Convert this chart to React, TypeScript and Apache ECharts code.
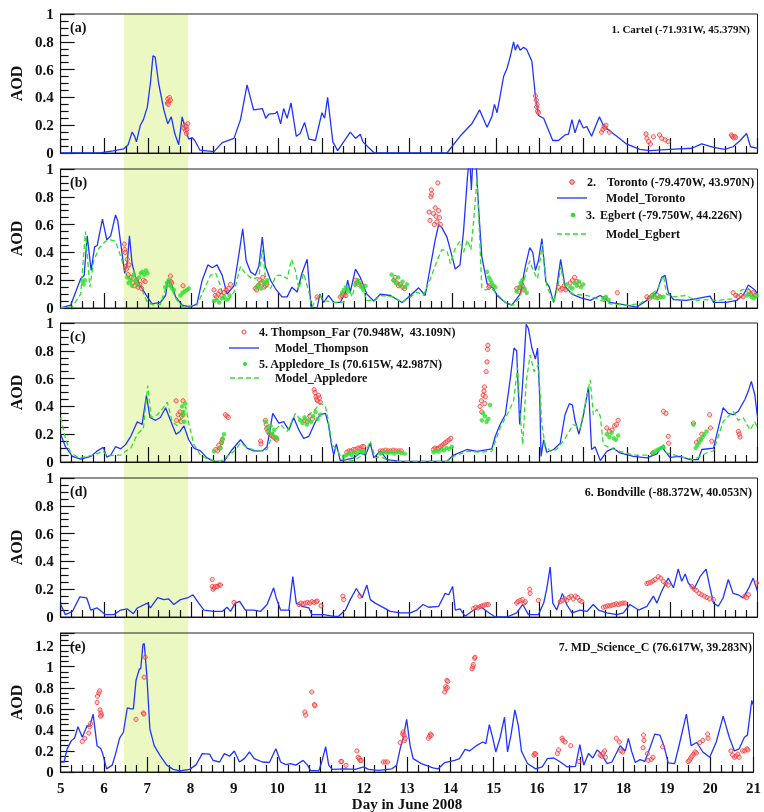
import React, { useEffect, useRef } from "react";
import * as echarts from "echarts";

const DAY_MIN = 5;
const DAY_MAX = 21;
const SHADE_DAYS = [6.45, 7.93];
const PANEL_LABELS = ["(a)", "(b)", "(c)", "(d)", "(e)"];
const Y_MAX = [1, 1, 1, 1, 1.32];
const STATION_TITLES = ["1. Cartel (-71.931W, 45.379N)", "", "", "6. Bondville (-88.372W, 40.053N)", "7. MD_Science_C (76.617W, 39.283N)"];

// ---- Panel (a): Cartel ----
const modelCartel = [[5,0],[5.9,0],[6.2,0.015],[6.45,0.03],[6.55,0.06],[6.64,0.15],[6.7,0.12],[6.74,0.08],[6.83,0.2],[6.9,0.24],[6.99,0.33],[7.06,0.5],[7.12,0.7],[7.17,0.69],[7.25,0.5],[7.37,0.31],[7.46,0.21],[7.54,0.26],[7.62,0.14],[7.71,0.06],[7.79,0.26],[7.87,0.17],[7.94,0.1],[8.02,0.11],[8.08,0.09],[8.2,0.02],[8.52,0.01],[8.71,0.075],[8.98,0.105],[9.13,0.24],[9.28,0.49],[9.43,0.31],[9.63,0.32],[9.71,0.25],[9.78,0.28],[9.93,0.285],[9.97,0.3],[10.05,0.21],[10.12,0.32],[10.2,0.25],[10.29,0.36],[10.41,0.12],[10.5,0.14],[10.6,0.22],[10.7,0.1],[10.85,0.09],[11.0,0.29],[11.06,0.25],[11.13,0.4],[11.25,0.08],[11.36,0.017],[11.65,0.15],[11.77,0.105],[11.88,0.135],[11.94,0.08],[12.2,0],[13.87,0],[13.98,0.045],[14.17,0.12],[14.44,0.21],[14.62,0.31],[14.79,0.185],[14.9,0.26],[14.96,0.35],[15.02,0.29],[15.09,0.41],[15.17,0.55],[15.25,0.61],[15.32,0.69],[15.4,0.8],[15.44,0.74],[15.49,0.78],[15.55,0.74],[15.63,0.76],[15.7,0.745],[15.82,0.66],[15.9,0.41],[15.97,0.27],[16.09,0.25],[16.2,0.165],[16.3,0.09],[16.43,0.09],[16.58,0.13],[16.66,0.135],[16.74,0.24],[16.81,0.145],[16.91,0.24],[17.0,0.18],[17.08,0.19],[17.19,0.12],[17.37,0.26],[17.46,0.2],[17.62,0.155],[17.77,0.12],[17.99,0.065],[18.3,0.026],[18.53,0.017],[18.99,0.026],[19.49,0.034],[19.72,0.065],[19.99,0.04],[20.25,0.026],[20.44,0.045],[20.6,0.09],[20.75,0.14],[20.84,0.045],[21,0.034]];
const obsCartel = [[7.45,0.36],[7.46,0.39],[7.48,0.37],[7.5,0.4],[7.52,0.38],[7.47,0.35],[7.83,0.18],[7.85,0.2],[7.87,0.16],[7.89,0.14],[7.9,0.17],[7.92,0.21],[7.88,0.19],[15.9,0.41],[15.92,0.38],[15.93,0.33],[15.95,0.3],[15.94,0.35],[15.97,0.29],[17.42,0.15],[17.45,0.17],[17.48,0.19],[17.5,0.18],[17.52,0.2],[17.6,0.15],[18.44,0.137],[18.46,0.106],[18.5,0.082],[18.54,0.065],[18.61,0.117],[18.75,0.13],[18.8,0.106],[18.88,0.094],[18.95,0.082],[20.4,0.13],[20.42,0.12],[20.45,0.11],[20.48,0.12],[20.5,0.11]];

// ---- Panel (b): Toronto / Egbert ----
const modelToronto = [[5,0],[5.23,0.02],[5.46,0.21],[5.54,0.235],[5.61,0.52],[5.7,0.27],[5.78,0.44],[5.84,0.45],[5.96,0.64],[6.06,0.49],[6.15,0.52],[6.26,0.67],[6.31,0.63],[6.39,0.44],[6.47,0.25],[6.53,0.33],[6.58,0.52],[6.64,0.32],[6.72,0.22],[6.83,0.16],[6.99,0.08],[7.1,0.03],[7.29,0.04],[7.41,0.09],[7.46,0.2],[7.54,0.18],[7.64,0.08],[7.79,0.02],[7.98,0.007],[8.13,0.03],[8.25,0.2],[8.38,0.31],[8.48,0.29],[8.59,0.31],[8.71,0.235],[8.82,0.1],[8.98,0.16],[9.09,0.38],[9.18,0.57],[9.26,0.34],[9.36,0.26],[9.47,0.235],[9.55,0.3],[9.63,0.51],[9.7,0.3],[9.82,0.2],[9.93,0.14],[10.08,0.08],[10.2,0.08],[10.31,0.15],[10.43,0.115],[10.54,0.25],[10.66,0.35],[10.75,0.007],[10.89,0],[10.95,0.1],[11.04,0.04],[11.15,0.09],[11.27,0.04],[11.42,0.04],[11.54,0.115],[11.59,0.2],[11.65,0.115],[11.77,0.28],[11.88,0.22],[12.03,0.1],[12.19,0.05],[12.34,0.1],[12.57,0.09],[12.84,0.04],[13.03,0.09],[13.22,0.145],[13.37,0.09],[13.49,0.3],[13.6,0.49],[13.68,0.6],[13.75,0.58],[13.87,0.51],[13.98,0.38],[14.06,0.28],[14.17,0.31],[14.25,0.55],[14.34,0.94],[14.39,1.1],[14.43,0.85],[14.47,1.1],[14.53,1.1],[14.6,0.7],[14.67,0.37],[14.79,0.175],[14.94,0.14],[15.02,0.09],[15.21,0.04],[15.36,0.02],[15.55,0.1],[15.67,0.3],[15.77,0.435],[15.84,0.4],[15.9,0.27],[15.97,0.34],[16.05,0.5],[16.14,0.19],[16.22,0.15],[16.32,0.04],[16.39,0.15],[16.48,0.35],[16.58,0.155],[16.74,0.1],[16.93,0.075],[17.16,0.055],[17.39,0.09],[17.62,0.04],[17.92,0.025],[18.23,0.007],[18.46,0.055],[18.69,0.115],[18.8,0.22],[18.88,0.235],[18.95,0.115],[19.07,0.06],[19.37,0.055],[19.6,0.067],[19.91,0.085],[19.99,0.04],[20.29,0.04],[20.52,0.055],[20.67,0.09],[20.79,0.165],[20.94,0.13],[21,0.1]];
const modelEgbert = [[5,0],[5.27,0.01],[5.46,0.1],[5.57,0.55],[5.67,0.15],[5.76,0.34],[5.88,0.43],[6.03,0.48],[6.15,0.49],[6.26,0.48],[6.38,0.37],[6.49,0.25],[6.61,0.2],[6.68,0.27],[6.76,0.16],[6.87,0.13],[6.99,0.04],[7.14,0.02],[7.29,0.025],[7.43,0.16],[7.52,0.16],[7.64,0.07],[7.79,0.01],[8.13,0.02],[8.29,0.13],[8.44,0.235],[8.56,0.25],[8.67,0.16],[8.76,0.055],[8.86,0.06],[8.98,0.115],[9.13,0.3],[9.24,0.25],[9.4,0.21],[9.55,0.22],[9.63,0.42],[9.7,0.22],[9.82,0.14],[9.95,0.235],[10.08,0.235],[10.2,0.21],[10.3,0.35],[10.39,0.27],[10.47,0.14],[10.58,0.25],[10.7,0.115],[10.77,0.007],[10.93,0.1],[11.04,0.055],[11.27,0.04],[11.5,0.04],[11.61,0.15],[11.69,0.08],[11.8,0.21],[11.92,0.15],[12.03,0.055],[12.22,0.055],[12.34,0.09],[12.65,0.08],[12.84,0.04],[13.03,0.08],[13.18,0.115],[13.33,0.09],[13.49,0.21],[13.64,0.34],[13.75,0.42],[13.87,0.41],[13.95,0.32],[14.06,0.43],[14.17,0.48],[14.25,0.4],[14.34,0.49],[14.42,0.42],[14.48,0.62],[14.56,0.93],[14.61,0.58],[14.67,0.14],[14.75,0.13],[14.9,0.14],[15.02,0.1],[15.21,0.04],[15.4,0.02],[15.55,0.08],[15.67,0.235],[15.77,0.34],[15.86,0.26],[15.95,0.21],[16.06,0.46],[16.16,0.16],[16.32,0.04],[16.43,0.175],[16.48,0.3],[16.58,0.14],[16.77,0.1],[17.08,0.09],[17.31,0.067],[17.62,0.03],[18,0.02],[18.3,0.03],[18.53,0.09],[18.72,0.14],[18.84,0.235],[18.91,0.1],[19.07,0.08],[19.34,0.09],[19.6,0.055],[19.87,0.06],[20.06,0.055],[20.44,0.067],[20.63,0.13],[20.79,0.14],[20.9,0.09],[21,0.067]];
const obsToronto = [[6.46,0.46],[6.47,0.42],[6.48,0.4],[6.5,0.3],[6.51,0.28],[6.53,0.35],[6.55,0.24],[6.57,0.31],[6.62,0.22],[6.66,0.18],[6.7,0.16],[6.74,0.2],[6.78,0.15],[6.82,0.17],[6.86,0.14],[6.9,0.2],[6.94,0.19],[7.52,0.23],[7.53,0.19],[7.55,0.18],[7.81,0.16],[8.52,0.13],[8.55,0.09],[8.58,0.08],[8.62,0.1],[8.66,0.12],[8.7,0.09],[8.75,0.11],[8.8,0.13],[8.86,0.14],[8.9,0.17],[9.47,0.14],[9.5,0.13],[9.53,0.16],[9.57,0.2],[9.6,0.18],[9.64,0.22],[9.67,0.15],[9.7,0.16],[9.74,0.17],[10.89,0.08],[11.42,0.08],[11.46,0.09],[11.5,0.1],[11.55,0.09],[11.77,0.2],[11.8,0.18],[11.84,0.17],[11.88,0.19],[11.92,0.16],[12.65,0.2],[12.68,0.22],[12.72,0.18],[12.76,0.16],[12.8,0.17],[12.85,0.15],[12.9,0.14],[13.46,0.69],[13.48,0.63],[13.5,0.8],[13.51,0.85],[13.52,0.82],[13.56,0.68],[13.58,0.6],[13.6,0.72],[13.62,0.66],[13.64,0.62],[13.66,0.9],[13.68,0.7],[13.7,0.65],[13.72,0.6],[14.83,0.15],[14.85,0.16],[15.47,0.14],[15.52,0.12],[15.56,0.15],[15.6,0.16],[15.64,0.13],[16.43,0.15],[16.48,0.13],[16.52,0.14],[16.56,0.16],[16.6,0.13],[16.7,0.18],[16.75,0.2],[16.8,0.22],[16.85,0.19],[16.9,0.17],[17.5,0.07],[17.78,0.11],[18.46,0.08],[18.52,0.07],[18.58,0.09],[18.64,0.08],[18.7,0.09],[18.76,0.08],[20.44,0.11],[20.5,0.09],[20.56,0.08],[20.62,0.09],[20.67,0.08],[20.8,0.12],[20.85,0.1],[20.9,0.11],[20.95,0.09]];
const obsEgbert = [[5.5,0.19],[5.53,0.17],[5.56,0.2],[6.53,0.22],[6.56,0.18],[6.6,0.2],[6.64,0.16],[6.68,0.24],[6.72,0.2],[6.76,0.17],[6.8,0.22],[6.84,0.25],[6.88,0.26],[6.92,0.24],[6.96,0.27],[6.99,0.25],[7.4,0.15],[7.44,0.18],[7.48,0.2],[7.52,0.16],[7.56,0.14],[7.6,0.13],[7.75,0.09],[7.8,0.11],[7.85,0.12],[7.9,0.13],[7.94,0.14],[8.52,0.05],[8.58,0.06],[8.64,0.04],[8.7,0.07],[8.76,0.08],[8.82,0.06],[8.88,0.09],[9.5,0.15],[9.55,0.17],[9.6,0.14],[9.65,0.19],[9.7,0.18],[9.74,0.2],[11.46,0.11],[11.5,0.13],[11.55,0.15],[11.6,0.12],[11.77,0.17],[11.82,0.2],[11.86,0.18],[11.9,0.15],[11.95,0.13],[12.0,0.16],[12.6,0.24],[12.65,0.2],[12.7,0.18],[12.75,0.22],[12.8,0.16],[12.85,0.19],[12.9,0.15],[12.95,0.17],[14.79,0.26],[14.83,0.22],[14.87,0.2],[14.9,0.18],[14.94,0.16],[14.98,0.15],[15.47,0.12],[15.52,0.15],[15.56,0.18],[15.6,0.2],[15.65,0.14],[15.7,0.11],[16.62,0.17],[16.7,0.15],[16.75,0.14],[16.8,0.18],[16.85,0.16],[16.9,0.19],[16.95,0.15],[17.0,0.17],[17.46,0.07],[17.52,0.08],[17.58,0.06],[18.57,0.08],[18.63,0.09],[18.7,0.07],[18.77,0.08],[18.84,0.08],[20.75,0.09],[20.8,0.1],[20.86,0.08],[20.92,0.07],[20.98,0.09]];

// ---- Panel (c): Thompson_Far / Appledore_Is ----
const modelThompson = [[5,0.2],[5.11,0.11],[5.27,0.04],[5.46,0.02],[5.69,0.04],[5.84,0.08],[5.98,0.105],[6.06,0.035],[6.15,0.05],[6.26,0.11],[6.38,0.095],[6.49,0.125],[6.61,0.185],[6.76,0.29],[6.87,0.27],[6.97,0.48],[7.05,0.32],[7.18,0.3],[7.29,0.32],[7.41,0.39],[7.52,0.3],[7.65,0.2],[7.74,0.22],[7.83,0.26],[7.94,0.16],[8.06,0.1],[8.21,0.08],[8.36,0.03],[8.52,0.005],[8.75,0.005],[8.94,0.09],[9.13,0.16],[9.28,0.1],[9.43,0.08],[9.63,0.08],[9.74,0.11],[9.87,0.35],[10.01,0.28],[10.12,0.29],[10.24,0.23],[10.35,0.32],[10.47,0.23],[10.58,0.17],[10.7,0.185],[10.85,0.29],[10.96,0.34],[11.08,0.35],[11.15,0.27],[11.21,0.14],[11.27,0.05],[11.33,0.13],[11.42,0.01],[11.57,0.017],[11.73,0.03],[11.88,0.065],[12.0,0.05],[12.11,0.135],[12.19,0.03],[12.34,0.08],[12.49,0.017],[12.8,0.005],[13.87,0.005],[14.02,0.05],[14.33,0.09],[14.56,0.077],[14.9,0.095],[14.98,0.185],[15.09,0.27],[15.21,0.34],[15.32,0.59],[15.41,0.82],[15.47,0.8],[15.54,0.27],[15.61,0.58],[15.69,0.99],[15.74,0.96],[15.82,0.82],[15.9,0.74],[15.95,0.82],[16.0,0.46],[16.03,0.04],[16.09,0.16],[16.16,0.07],[16.32,0.09],[16.47,0.135],[16.58,0.34],[16.68,0.42],[16.75,0.41],[16.81,0.3],[16.9,0.2],[17.0,0.33],[17.12,0.54],[17.19,0.09],[17.27,0.11],[17.39,0.01],[17.54,0.077],[17.69,0.1],[17.84,0.065],[18.15,0.04],[18.46,0.03],[18.69,0.058],[18.8,0.113],[18.88,0.077],[18.99,0.034],[19.22,0.04],[19.45,0.017],[19.64,0.017],[19.72,0.09],[19.99,0.1],[20.21,0.39],[20.33,0.35],[20.44,0.34],[20.56,0.365],[20.71,0.45],[20.79,0.51],[20.86,0.58],[20.94,0.48],[21,0.32]];
const modelAppledore = [[5,0.32],[5.11,0.17],[5.23,0.065],[5.42,0.03],[5.76,0.05],[5.98,0.077],[6.07,0.04],[6.22,0.05],[6.38,0.05],[6.49,0.077],[6.61,0.1],[6.76,0.2],[6.9,0.245],[7.0,0.55],[7.08,0.32],[7.22,0.34],[7.33,0.38],[7.45,0.43],[7.56,0.29],[7.68,0.26],[7.79,0.34],[7.87,0.4],[7.94,0.28],[8.06,0.125],[8.21,0.05],[8.4,0.017],[8.67,0.005],[8.98,0.077],[9.13,0.135],[9.28,0.105],[9.51,0.077],[9.74,0.09],[9.89,0.22],[10.05,0.27],[10.2,0.22],[10.39,0.35],[10.54,0.29],[10.7,0.34],[10.85,0.38],[10.96,0.425],[11.08,0.4],[11.15,0.29],[11.23,0.125],[11.35,0.09],[11.46,0.017],[11.73,0.01],[11.88,0.04],[12.0,0.065],[12.11,0.15],[12.22,0.03],[12.34,0.04],[12.57,0.005],[13.87,0.005],[14.02,0.04],[14.33,0.077],[14.63,0.07],[14.9,0.077],[15.09,0.245],[15.25,0.34],[15.4,0.44],[15.49,0.68],[15.55,0.34],[15.61,0.125],[15.69,0.58],[15.78,0.77],[15.87,0.65],[15.97,0.7],[16.05,0.27],[16.12,0.125],[16.24,0.077],[16.39,0.09],[16.58,0.17],[16.77,0.27],[16.93,0.245],[17.04,0.41],[17.16,0.59],[17.23,0.34],[17.31,0.38],[17.39,0.33],[17.46,0.125],[17.62,0.1],[17.84,0.077],[18.15,0.05],[18.46,0.05],[18.72,0.09],[18.84,0.125],[18.91,0.065],[19.22,0.04],[19.53,0.017],[19.68,0.04],[19.83,0.065],[19.99,0.08],[20.21,0.29],[20.44,0.365],[20.56,0.3],[20.67,0.32],[20.83,0.23],[20.94,0.29],[21,0.245]];
const obsThompson = [[7.65,0.44],[7.81,0.44],[7.66,0.3],[7.7,0.34],[7.74,0.36],[7.78,0.33],[7.81,0.34],[7.76,0.29],[8.56,0.09],[8.6,0.08],[8.63,0.12],[8.66,0.1],[8.69,0.14],[8.71,0.16],[8.78,0.34],[8.82,0.33],[8.85,0.32],[9.59,0.15],[9.6,0.13],[9.7,0.3],[9.73,0.24],[9.76,0.22],[9.8,0.2],[9.84,0.19],[9.88,0.18],[9.92,0.17],[9.96,0.16],[9.72,0.27],[10.6,0.3],[10.66,0.29],[10.72,0.33],[10.78,0.31],[10.82,0.52],[10.84,0.5],[10.86,0.47],[10.88,0.45],[10.9,0.44],[10.92,0.48],[10.94,0.46],[10.96,0.43],[11.57,0.07],[11.62,0.08],[11.67,0.08],[11.72,0.09],[11.77,0.09],[11.82,0.1],[11.87,0.1],[11.92,0.11],[11.96,0.11],[12.34,0.08],[12.4,0.08],[12.46,0.085],[12.52,0.08],[12.58,0.08],[12.64,0.085],[12.7,0.08],[12.76,0.08],[12.82,0.08],[13.56,0.09],[13.6,0.1],[13.64,0.095],[13.68,0.1],[13.72,0.11],[13.76,0.12],[13.8,0.13],[13.84,0.14],[13.88,0.15],[13.92,0.16],[13.96,0.17],[14.63,0.4],[14.66,0.44],[14.67,0.36],[14.7,0.48],[14.72,0.51],[14.73,0.54],[14.75,0.47],[14.77,0.65],[14.79,0.72],[14.8,0.81],[14.81,0.84],[14.74,0.42],[17.54,0.245],[17.6,0.22],[17.66,0.23],[17.72,0.26],[17.76,0.27],[17.8,0.3],[18.6,0.065],[18.84,0.365],[18.9,0.35],[18.95,0.185],[18.96,0.135],[19.53,0.28],[19.6,0.14],[19.66,0.16],[19.72,0.2],[19.9,0.34],[19.92,0.245],[19.95,0.15],[20.56,0.22],[20.58,0.2],[20.6,0.18]];
const obsAppledore = [[7.79,0.4],[7.82,0.36],[7.8,0.34],[7.84,0.29],[7.86,0.42],[8.52,0.077],[8.67,0.1],[8.7,0.14],[8.72,0.17],[8.75,0.2],[9.7,0.29],[9.74,0.25],[9.78,0.22],[9.82,0.26],[9.86,0.2],[9.9,0.23],[9.94,0.18],[9.97,0.17],[10.5,0.3],[10.55,0.28],[10.6,0.32],[10.65,0.27],[10.7,0.3],[10.75,0.29],[10.8,0.33],[10.85,0.36],[10.9,0.31],[10.96,0.34],[11.5,0.04],[11.56,0.05],[11.62,0.06],[11.68,0.05],[11.74,0.07],[11.8,0.06],[11.86,0.08],[11.92,0.07],[11.96,0.08],[12.34,0.06],[12.42,0.07],[12.5,0.065],[12.58,0.07],[12.66,0.06],[12.74,0.07],[12.82,0.065],[12.9,0.06],[13.56,0.07],[13.62,0.08],[13.68,0.075],[13.74,0.09],[13.8,0.085],[13.86,0.1],[13.92,0.095],[13.98,0.11],[14.67,0.3],[14.7,0.35],[14.74,0.33],[14.78,0.29],[14.82,0.31],[14.86,0.41],[17.54,0.2],[17.6,0.18],[17.65,0.21],[17.7,0.17],[17.75,0.16],[17.8,0.19],[18.6,0.065],[18.66,0.08],[18.72,0.09],[18.78,0.1],[18.84,0.11],[19.53,0.27],[19.58,0.1],[19.62,0.12],[19.66,0.14],[19.7,0.16],[19.74,0.18],[19.78,0.2],[19.83,0.22]];

// ---- Panel (d): Bondville ----
const modelBondville = [[5,0.09],[5.11,0.017],[5.27,0.04],[5.44,0.145],[5.6,0.137],[5.69,0.05],[5.84,0.065],[6.03,0.017],[6.22,0.017],[6.38,0.05],[6.53,0.058],[6.67,0.024],[6.76,0.065],[6.99,0.1],[7.06,0.065],[7.23,0.14],[7.37,0.125],[7.48,0.13],[7.6,0.09],[7.75,0.125],[7.91,0.137],[8.04,0.16],[8.17,0.1],[8.29,0.05],[8.52,0.04],[8.71,0.04],[8.82,0.07],[8.9,0.04],[9.01,0.1],[9.11,0.113],[9.24,0.05],[9.43,0.05],[9.59,0.04],[9.74,0.09],[9.89,0.21],[9.95,0.137],[10.05,0.05],[10.24,0.05],[10.33,0.29],[10.41,0.1],[10.54,0.077],[10.7,0.065],[10.77,0.017],[11.04,0.017],[11.27,0.005],[11.38,0.005],[11.54,0.05],[11.65,0.125],[11.79,0.205],[11.92,0.137],[12.03,0.23],[12.11,0.125],[12.22,0.1],[12.34,0.08],[12.57,0.04],[12.8,0.03],[13.03,0.03],[13.18,0.05],[13.32,0.09],[13.45,0.07],[13.68,0.077],[13.83,0.17],[13.91,0.16],[14.0,0.22],[14.06,0.05],[14.17,0.058],[14.29,0.005],[14.48,0.05],[14.63,0.077],[14.79,0.04],[14.98,0],[15.25,0],[15.47,0.03],[15.61,0.09],[15.74,0.017],[15.97,0.017],[16.09,0.1],[16.16,0.2],[16.24,0.36],[16.3,0.1],[16.39,0.05],[16.52,0.17],[16.62,0.09],[16.74,0.03],[16.93,0.05],[17.08,0.04],[17.23,0.09],[17.35,0.05],[17.54,0.03],[17.77,0.017],[17.92,0.03],[18.07,0.09],[18.27,0.05],[18.46,0.077],[18.61,0.15],[18.69,0.1],[18.8,0.185],[18.95,0.28],[19.07,0.21],[19.18,0.345],[19.26,0.257],[19.34,0.31],[19.41,0.245],[19.54,0.2],[19.68,0.29],[19.82,0.345],[19.91,0.21],[19.99,0.1],[20.1,0.077],[20.21,0.137],[20.33,0.27],[20.44,0.17],[20.56,0.16],[20.67,0.137],[20.81,0.215],[20.9,0.28],[21,0.185]];
const obsBondville = [[8.48,0.27],[8.48,0.22],[8.5,0.2],[8.53,0.21],[8.56,0.22],[8.6,0.22],[8.64,0.23],[8.67,0.23],[8.98,0.105],[10.47,0.09],[10.52,0.1],[10.57,0.095],[10.62,0.1],[10.67,0.105],[10.72,0.1],[10.77,0.11],[10.82,0.105],[10.87,0.11],[10.89,0.115],[10.98,0.08],[11.48,0.15],[11.5,0.125],[11.87,0.15],[14.48,0.06],[14.53,0.07],[14.58,0.065],[14.63,0.075],[14.68,0.08],[14.73,0.085],[14.78,0.09],[14.82,0.09],[15.47,0.1],[15.5,0.11],[15.55,0.12],[15.6,0.125],[15.64,0.1],[15.67,0.11],[15.77,0.2],[15.78,0.17],[15.97,0.12],[16.47,0.11],[16.52,0.12],[16.57,0.13],[16.62,0.12],[16.67,0.14],[16.72,0.15],[16.77,0.13],[16.82,0.15],[16.87,0.14],[16.92,0.12],[16.97,0.11],[17.46,0.07],[17.51,0.075],[17.56,0.08],[17.61,0.08],[17.66,0.085],[17.71,0.09],[17.76,0.095],[17.81,0.09],[17.86,0.095],[17.91,0.1],[17.96,0.1],[18.46,0.24],[18.5,0.245],[18.55,0.25],[18.6,0.26],[18.65,0.27],[18.72,0.29],[18.78,0.28],[18.84,0.255],[18.9,0.24],[18.95,0.23],[19.49,0.22],[19.55,0.2],[19.6,0.19],[19.66,0.17],[19.72,0.16],[19.78,0.15],[19.84,0.14],[19.9,0.13],[19.99,0.125],[20.71,0.15],[20.75,0.14],[20.79,0.16],[20.98,0.245]];

// ---- Panel (e): MD_Science_C ----
const modelMD = [[5,0.095],[5.08,0.095],[5.15,0.22],[5.25,0.3],[5.32,0.32],[5.4,0.43],[5.5,0.33],[5.61,0.44],[5.67,0.43],[5.75,0.55],[5.84,0.25],[5.93,0.22],[5.98,0.16],[6.06,0.03],[6.19,0.065],[6.26,0.16],[6.36,0.32],[6.45,0.38],[6.54,0.61],[6.63,0.6],[6.68,0.6],[6.74,0.87],[6.82,0.98],[6.85,0.98],[6.9,1.21],[6.93,1.22],[6.99,0.92],[7.06,0.41],[7.16,0.25],[7.29,0.16],[7.45,0.065],[7.6,0.025],[7.75,0.01],[7.98,0.025],[8.13,0.07],[8.27,0.175],[8.44,0.17],[8.52,0.11],[8.67,0.095],[8.78,0.175],[8.9,0.15],[9.01,0.2],[9.13,0.095],[9.24,0.127],[9.36,0.19],[9.47,0.127],[9.66,0.095],[9.82,0.09],[9.97,0.22],[10.08,0.095],[10.2,0.07],[10.31,0.08],[10.43,0.065],[10.6,0.11],[10.7,0.065],[10.77,0.016],[10.96,0.01],[11.04,0.11],[11.12,0.24],[11.19,0.065],[11.27,0.025],[11.57,0.03],[11.8,0.025],[12.0,0.048],[12.11,0.025],[12.34,0.016],[12.65,0.03],[12.76,0.065],[12.84,0.22],[12.91,0.32],[12.99,0.5],[13.07,0.25],[13.14,0.127],[13.33,0.08],[13.6,0.04],[13.72,0.03],[13.87,0.09],[14.1,0.11],[14.21,0.127],[14.34,0.215],[14.44,0.2],[14.6,0.25],[14.75,0.285],[14.82,0.27],[14.9,0.45],[14.98,0.32],[15.05,0.19],[15.15,0.33],[15.25,0.52],[15.32,0.19],[15.4,0.35],[15.49,0.59],[15.57,0.44],[15.64,0.2],[15.78,0.08],[15.97,0.03],[16.12,0.048],[16.24,0.127],[16.39,0.133],[16.54,0.095],[16.7,0.048],[16.89,0.054],[16.99,0.26],[17.08,0.065],[17.19,0.175],[17.29,0.133],[17.39,0.21],[17.48,0.175],[17.62,0.08],[17.73,0.095],[17.92,0.25],[18.04,0.2],[18.11,0.32],[18.19,0.19],[18.27,0.09],[18.38,0.117],[18.49,0.1],[18.61,0.23],[18.72,0.36],[18.84,0.35],[18.93,0.25],[19.03,0.086],[19.18,0.08],[19.3,0.285],[19.45,0.55],[19.56,0.25],[19.69,0.28],[19.83,0.19],[19.99,0.14],[20.14,0.285],[20.3,0.53],[20.44,0.33],[20.56,0.2],[20.67,0.22],[20.79,0.33],[20.86,0.35],[20.96,0.68],[21,0.63]];
const obsMD = [[5.5,0.29],[5.56,0.32],[5.65,0.37],[5.67,0.43],[5.69,0.46],[5.84,0.66],[5.85,0.72],[5.88,0.75],[5.9,0.77],[5.91,0.59],[5.93,0.56],[5.94,0.54],[5.92,0.53],[6.74,0.5],[6.91,0.56],[6.92,0.55],[6.93,0.9],[6.95,1.09],[10.64,0.57],[10.66,0.54],[10.8,0.76],[10.86,0.64],[10.87,0.63],[11.47,0.1],[11.49,0.1],[11.59,0.063],[11.84,0.2],[11.87,0.14],[11.9,0.127],[11.92,0.11],[11.94,0.11],[12.45,0.095],[12.5,0.095],[12.55,0.095],[12.84,0.28],[12.9,0.36],[12.91,0.38],[12.93,0.35],[12.94,0.3],[12.96,0.32],[13.49,0.32],[13.52,0.34],[13.54,0.36],[13.56,0.35],[13.87,0.76],[13.89,0.81],[13.9,0.79],[13.92,0.87],[13.94,0.86],[13.93,0.8],[14.5,0.98],[14.52,1.0],[14.53,1.02],[14.56,1.08],[14.57,1.09],[15.93,0.16],[15.95,0.175],[15.97,0.17],[16.47,0.175],[16.5,0.21],[16.58,0.32],[16.6,0.3],[16.65,0.285],[16.78,0.25],[16.97,0.1],[17.46,0.16],[17.5,0.15],[17.53,0.18],[17.56,0.2],[17.58,0.14],[17.83,0.32],[17.9,0.285],[17.94,0.2],[17.98,0.19],[18.46,0.35],[18.47,0.3],[18.45,0.23],[18.55,0.175],[18.57,0.11],[18.64,0.12],[18.68,0.14],[18.9,0.24],[19.49,0.1],[19.52,0.11],[19.55,0.13],[19.58,0.15],[19.62,0.17],[19.65,0.19],[19.68,0.18],[19.76,0.28],[19.83,0.3],[19.94,0.36],[19.95,0.32],[20.48,0.2],[20.52,0.16],[20.56,0.14],[20.6,0.15],[20.64,0.17],[20.67,0.14],[20.75,0.2],[20.8,0.2],[20.85,0.22],[20.87,0.21]];

const FONT = "Liberation Serif";
const BLUE = "#1f35ff";
const GREEN = "#2ee02e";
const RED = "#ff2a2a";
const SHADE_COLOR = "#ebf8c2";
const GRID_TOPS = [14, 169, 323, 478, 633];
const GRID_H = 139;
const GRID_LEFT = 60;
const GRID_RIGHT = 6.5;

function lineSeries(name: string, data: number[][], idx: number, color: string, dashed: boolean) {
  return {
    name, type: "line", xAxisIndex: idx, yAxisIndex: idx, data,
    showSymbol: false, symbol: "none", z: 3, clip: true,
    lineStyle: { color, width: 1.3, type: dashed ? [5, 3] : "solid" },
  };
}
function redObs(name: string, data: number[][], idx: number) {
  return {
    name, type: "scatter", xAxisIndex: idx, yAxisIndex: idx, data, z: 4,
    symbol: "circle", symbolSize: 4.2,
    itemStyle: { color: "rgba(255,150,150,0.5)", borderColor: RED, borderWidth: 1 },
  };
}
function greenObs(name: string, data: number[][], idx: number) {
  return {
    name, type: "scatter", xAxisIndex: idx, yAxisIndex: idx, data, z: 5,
    symbol: "circle", symbolSize: 4.5,
    itemStyle: { color: GREEN },
  };
}

export default function App() {
  const ref = useRef<HTMLDivElement>(null);
  useEffect(() => {
    if (!ref.current) return;
    const chart = echarts.init(ref.current, undefined, { renderer: "svg" });
    const grids = GRID_TOPS.map((t) => ({
      left: GRID_LEFT, right: GRID_RIGHT, top: t, height: GRID_H,
      show: true, borderColor: "#222", borderWidth: 1, backgroundColor: "transparent",
    }));
    const xAxes = GRID_TOPS.map((_, i) => ({
      type: "value", gridIndex: i, min: DAY_MIN, max: DAY_MAX, interval: 1,
      axisLine: { show: true, lineStyle: { color: "#111", width: 1 } },
      axisTick: { show: true, inside: true, length: 15, lineStyle: { color: "#111", width: 1.2 } },
      minorTick: { show: true, splitNumber: 4, length: 7, lineStyle: { color: "#111", width: 1.2 } },
      splitLine: { show: false },
      axisLabel: { show: i === 4, fontFamily: FONT, fontWeight: "bold", fontSize: 15, color: "#111", margin: 8 },
      name: i === 4 ? "Day in June 2008" : "",
      nameLocation: "middle", nameGap: 24,
      nameTextStyle: { fontFamily: FONT, fontWeight: "bold", fontSize: 15, color: "#111" },
    }));
    const yAxes = GRID_TOPS.map((_, i) => ({
      type: "value", gridIndex: i, min: 0, max: Y_MAX[i], interval: 0.2,
      axisLine: { show: true, lineStyle: { color: "#111", width: 1 } },
      axisTick: { show: true, inside: true, length: 14, lineStyle: { color: "#111", width: 1.2 } },
      minorTick: { show: true, splitNumber: 4, length: 8, lineStyle: { color: "#111", width: 1.2 } },
      splitLine: { show: false },
      axisLabel: {
        fontFamily: FONT, fontWeight: "bold", fontSize: 15, color: "#111", margin: 7,
        showMaxLabel: i !== 4,
        formatter: (v: number) => String(+v.toFixed(2)),
      },
      name: "AOD", nameLocation: "middle", nameGap: 31, nameRotate: 90,
      nameTextStyle: { fontFamily: FONT, fontWeight: "bold", fontSize: 16, color: "#111" },
    }));
    const series = [
      lineSeries("Model_Cartel", modelCartel, 0, BLUE, false),
      redObs("1. Cartel", obsCartel, 0),
      lineSeries("Model_Toronto", modelToronto, 1, BLUE, false),
      lineSeries("Model_Egbert", modelEgbert, 1, GREEN, true),
      redObs("2. Toronto", obsToronto, 1),
      greenObs("3. Egbert", obsEgbert, 1),
      lineSeries("Model_Thompson", modelThompson, 2, BLUE, false),
      lineSeries("Model_Appledore", modelAppledore, 2, GREEN, true),
      greenObs("5. Appledore_Is", obsAppledore, 2),
      redObs("4. Thompson_Far", obsThompson, 2),
      lineSeries("Model_Bondville", modelBondville, 3, BLUE, false),
      redObs("6. Bondville", obsBondville, 3),
      lineSeries("Model_MD_Science_C", modelMD, 4, BLUE, false),
      redObs("7. MD_Science_C", obsMD, 4),
    ];
    chart.setOption({ animation: false, grid: grids, xAxis: xAxes, yAxis: yAxes, series });

    const x0 = chart.convertToPixel({ xAxisIndex: 0 }, SHADE_DAYS[0]) as number;
    const x1 = chart.convertToPixel({ xAxisIndex: 0 }, SHADE_DAYS[1]) as number;
    const yTop = GRID_TOPS[0];
    const yBot = GRID_TOPS[4] + GRID_H;

    const txt = (id: string, x: number, y: number, text: string, size: number, align: string) => ({
      type: "text", id, x, y, z: 10,
      style: { text, fontFamily: FONT, fontWeight: "bold", fontSize: size, fill: "#111", align, verticalAlign: "middle" },
    });
    const elements: any[] = [
      { type: "rect", id: "shade", z: -10, shape: { x: x0, y: yTop, width: x1 - x0, height: yBot - yTop }, style: { fill: SHADE_COLOR } },
    ];
    PANEL_LABELS.forEach((l, i) => elements.push(txt("pl" + i, 70, GRID_TOPS[i] + 13, l, 14, "left")));
    elements.push(txt("st0", 750, GRID_TOPS[0] + 15, STATION_TITLES[0], 11, "right"));
    elements.push(txt("st3", 752, GRID_TOPS[3] + 14, STATION_TITLES[3], 12, "right"));
    elements.push(txt("st4", 752, GRID_TOPS[4] + 14, STATION_TITLES[4], 12, "right"));
    // legend (b)
    elements.push({ type: "circle", id: "lgb1", z: 10, shape: { cx: 572, cy: 182, r: 2.3 }, style: { fill: "rgba(255,120,120,0.6)", stroke: RED, lineWidth: 1 } });
    elements.push(txt("lgb1t", 587, 182, "2.", 12, "left"));
    elements.push(txt("lgb1u", 607, 182, "Toronto (-79.470W, 43.970N)", 12, "left"));
    elements.push({ type: "line", id: "lgb2", z: 10, shape: { x1: 557, y1: 198, x2: 587, y2: 198 }, style: { stroke: BLUE, lineWidth: 1.3 } });
    elements.push(txt("lgb2t", 606, 198, "Model_Toronto", 12, "left"));
    elements.push({ type: "circle", id: "lgb3", z: 10, shape: { cx: 573, cy: 215, r: 2.3 }, style: { fill: GREEN } });
    elements.push(txt("lgb3t", 586, 215, "3.", 12, "left"));
    elements.push(txt("lgb3u", 600, 215, "Egbert (-79.750W, 44.226N)", 12, "left"));
    elements.push({ type: "line", id: "lgb4", z: 10, shape: { x1: 557, y1: 234, x2: 587, y2: 234 }, style: { stroke: GREEN, lineWidth: 1.3, lineDash: [5, 3] } });
    elements.push(txt("lgb4t", 606, 234, "Model_Egbert", 12, "left"));
    // legend (c)
    elements.push({ type: "circle", id: "lgc1", z: 10, shape: { cx: 244, cy: 332, r: 2 }, style: { fill: "rgba(255,255,255,0)", stroke: RED, lineWidth: 1 } });
    elements.push(txt("lgc1t", 259, 332, "4. Thompson_Far (70.948W,  43.109N)", 12, "left"));
    elements.push({ type: "line", id: "lgc2", z: 10, shape: { x1: 229, y1: 348, x2: 259, y2: 348 }, style: { stroke: BLUE, lineWidth: 1.3 } });
    elements.push(txt("lgc2t", 275, 348, "Model_Thompson", 12, "left"));
    elements.push({ type: "circle", id: "lgc3", z: 10, shape: { cx: 245, cy: 364, r: 2 }, style: { fill: GREEN } });
    elements.push(txt("lgc3t", 259, 364, "5. Appledore_Is (70.615W, 42.987N)", 12, "left"));
    elements.push({ type: "line", id: "lgc4", z: 10, shape: { x1: 230, y1: 378, x2: 262, y2: 378 }, style: { stroke: GREEN, lineWidth: 1.3, lineDash: [5, 3] } });
    elements.push(txt("lgc4t", 275, 378, "Model_Appledore", 12, "left"));

    chart.setOption({ graphic: { elements } });
    return () => chart.dispose();
  }, []);
  return <div ref={ref} style={{ position: "fixed", left: 0, top: 0, width: 764, height: 812 }} />;
}
